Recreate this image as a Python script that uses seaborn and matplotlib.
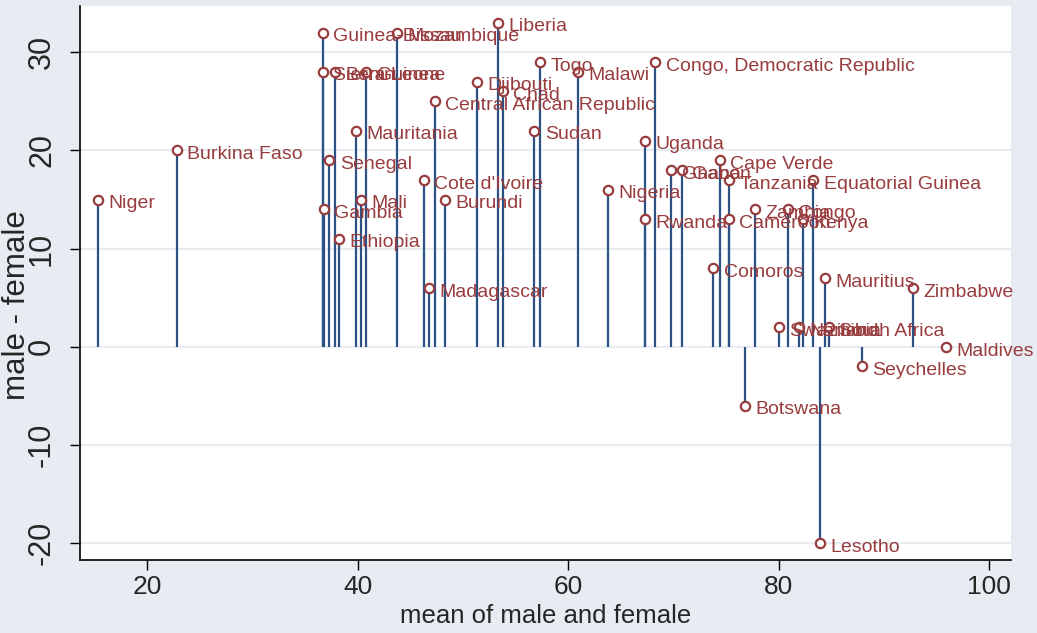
import matplotlib
matplotlib.use("Agg")
import matplotlib.pyplot as plt
import seaborn as sns
import pandas as pd

countries = ["Niger", "Burkina Faso", "Guinea-Bissau", "Sierra Leone", "Gambia",
             "Senegal", "Benin", "Ethiopia", "Mauritania", "Mali", "Guinea",
             "Mozambique", "Cote d'Ivoire", "Madagascar", "Central African Republic",
             "Burundi", "Djibouti", "Liberia", "Chad", "Sudan", "Togo", "Malawi",
             "Nigeria", "Uganda", "Rwanda", "Congo, Democratic Republic", "Ghana",
             "Gabon", "Comoros", "Cape Verde", "Tanzania", "Cameroon", "Botswana",
             "Zambia", "Swaziland", "Congo", "Namibia", "Kenya", "Equatorial Guinea",
             "Lesotho", "Mauritius", "South Africa", "Seychelles", "Zimbabwe", "Maldives"]
mean_mf = [15.3, 22.8, 36.7, 36.7, 36.8,
           37.3, 37.8, 38.2, 39.8, 40.3, 40.8,
           43.7, 46.3, 46.8, 47.3,
           48.3, 51.3, 53.3, 53.8, 56.8, 57.3, 60.9,
           63.8, 67.3, 67.3, 68.3, 69.8,
           70.8, 73.8, 74.4, 75.3, 75.3, 76.8,
           77.8, 80.0, 80.9, 81.9, 82.3, 83.3,
           83.9, 84.4, 84.8, 87.9, 92.8, 95.9]
diff_mf = [15, 20, 32, 28, 14,
           19, 28, 11, 22, 15, 28,
           32, 17, 6, 25,
           15, 27, 33, 26, 22, 29, 28,
           16, 21, 13, 29, 18,
           18, 8, 19, 17, 13, -6,
           14, 2, 14, 2, 13, 17,
           -20, 7, 2, -2, 6, 0]
x_ticks = [20, 40, 60, 80, 100]
y_ticks = [-20, -10, 0, 10, 20, 30]

df = pd.DataFrame({"country": countries, "mean": mean_mf, "diff": diff_mf})

bg = "#E6ECF2"
navy = "#2b5185"
maroon = "#983c3e"

sns.set_theme(style="white")
plt.rcParams["font.family"] = ["Liberation Sans", "DejaVu Sans"]

fig = plt.figure(figsize=(10.37, 6.33), dpi=100, facecolor=bg)
ax = fig.add_axes([80/1037, 73/633, (1011-80)/1037, (560-6)/633])
ax.set_facecolor("white")

for yt in y_ticks:
    ax.axhline(yt, color="#E6ECF2", lw=1.6, zorder=0)

ax.vlines(df["mean"], 0, df["diff"], color=navy, lw=1.6, zorder=2)
sns.scatterplot(data=df, x="mean", y="diff", ax=ax, s=45, marker="o",
                facecolor="white", edgecolor=maroon, linewidth=1.6, zorder=3,
                legend=False)
for _, r in df.iterrows():
    ax.annotate(r["country"], (r["mean"], r["diff"]), xytext=(7.5, -3),
                textcoords="offset points", ha="left", va="center",
                color=maroon, fontsize=14, zorder=4)

ax.set_xlim(13.6, 102.1)
ax.set_ylim(-21.7, 34.7)
ax.set_xticks(x_ticks)
ax.set_yticks(y_ticks)
ax.set_yticklabels([str(v) for v in y_ticks], rotation=90, va="center")
ax.tick_params(axis="both", direction="out", length=7.5, width=1, color="black",
               left=True, bottom=True)
ax.tick_params(axis="x", labelsize=19, pad=3)
ax.tick_params(axis="y", labelsize=22, pad=9)
ax.set_xlabel("mean of male and female", fontsize=18.5)
ax.set_ylabel("male - female", fontsize=22.5)
ax.xaxis.set_label_coords(0.5, -0.08)
ax.yaxis.set_label_coords(-0.052, 0.46)
for side in ["top", "right"]:
    ax.spines[side].set_visible(False)
for side in ["left", "bottom"]:
    ax.spines[side].set_color("black")
    ax.spines[side].set_linewidth(1.2)

fig.savefig("out.png", dpi=100, facecolor=bg)
